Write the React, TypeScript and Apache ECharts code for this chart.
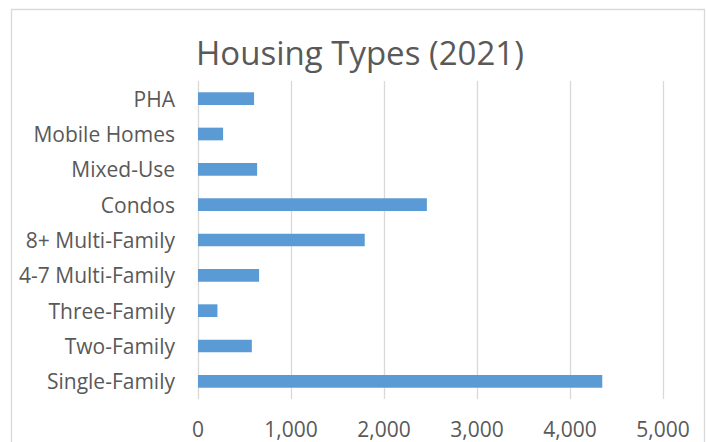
import React, { useEffect, useRef } from "react";
import * as echarts from "echarts";

const categories = [
  "Single-Family",
  "Two-Family",
  "Three-Family",
  "4-7 Multi-Family",
  "8+ Multi-Family",
  "Condos",
  "Mixed-Use",
  "Mobile Homes",
  "PHA",
];
const values = [4347, 579, 209, 657, 1793, 2461, 636, 270, 603];
const titleText = "Housing Types (2021)";

const FONT = "'Open Sans', 'Noto Sans', sans-serif";
const TEXT_COLOR = "#595959";

export default function App() {
  const ref = useRef<HTMLDivElement>(null);
  useEffect(() => {
    if (!ref.current) return;
    const chart = echarts.init(ref.current, undefined, { renderer: "svg" });
    chart.setOption({
      animation: false,
      backgroundColor: "#ffffff",
      title: {
        text: titleText,
        left: 191,
        top: 31,
        textStyle: {
          fontFamily: FONT,
          fontSize: 33,
          fontWeight: "normal",
          color: TEXT_COLOR,
        },
      },
      grid: { left: 198, right: 43, top: 81, bottom: 43 },
      xAxis: {
        type: "value",
        min: 0,
        max: 5000,
        interval: 1000,
        axisLine: { show: false },
        axisTick: { show: false },
        splitLine: { show: true, lineStyle: { color: "#d9d9d9", width: 1.3 } },
        axisLabel: {
          fontFamily: FONT,
          fontSize: 21,
          color: TEXT_COLOR,
          margin: 19,
          formatter: (v: number) => v.toLocaleString("en-US"),
        },
      },
      yAxis: {
        type: "category",
        data: categories,
        axisLine: { show: false },
        axisTick: { show: false },
        splitLine: { show: false },
        axisLabel: {
          fontFamily: FONT,
          fontSize: 21,
          color: TEXT_COLOR,
          margin: 23,
        },
      },
      series: [
        {
          type: "bar",
          data: values,
          barWidth: "36%",
          itemStyle: { color: "#5b9bd5" },
        },
      ],
      graphic: [
        {
          type: "rect",
          shape: { x: 11.5, y: 9.5, width: 693, height: 500 },
          style: { fill: "none", stroke: "#d9d9d9", lineWidth: 1.3 },
          silent: true,
        },
      ],
    });
    return () => chart.dispose();
  }, []);
  return (
    <div
      ref={ref}
      style={{ position: "absolute", left: 0, top: 0, width: 706, height: 442 }}
    />
  );
}
